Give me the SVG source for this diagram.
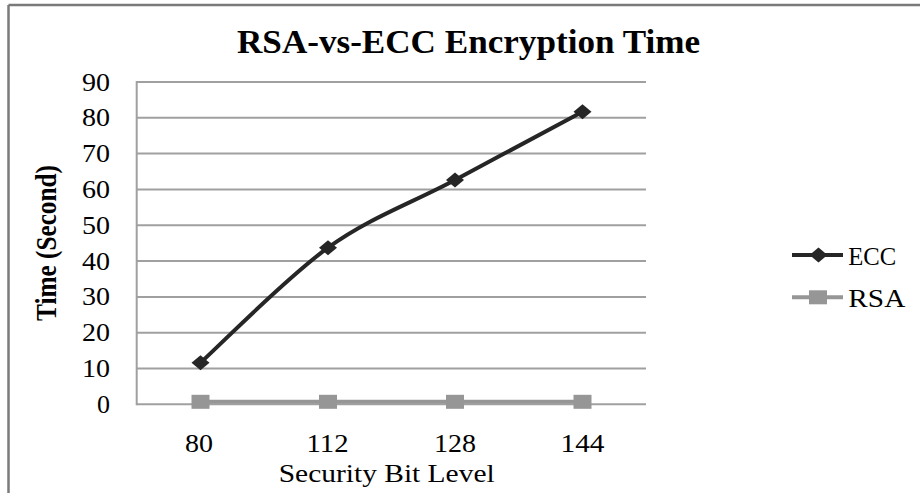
<svg xmlns="http://www.w3.org/2000/svg" width="920" height="493" viewBox="0 0 920 493">
<style>
  text { font-family: "Liberation Serif", "Times New Roman", serif; fill: #000; }
  .title { font-size: 34px; font-weight: bold; }
  .ytick { font-size: 26px; text-anchor: end; }
  .xtick { font-size: 25px; text-anchor: middle; }
  .axt { font-size: 26px; }
  .leg { font-size: 26px; }
  .grid { stroke: #a0a0a0; stroke-width: 2; fill: none; }
  .ecc { stroke: #262626; stroke-width: 4; fill: none; stroke-linejoin: round; }
  .rsa { stroke: #969696; stroke-width: 4; fill: none; }
</style>
<defs>
  <path id="dia" d="M0,-7.5 L9,0 L0,7.5 L-9,0 Z" fill="#262626"/>
  <rect id="sq" x="-9" y="-7" width="18" height="14" fill="#969696"/>
</defs>
<rect x="0" y="0" width="920" height="493" fill="#fff"/>
<g id="frame">
  <line x1="8.5" y1="5" x2="920" y2="5" stroke="#7a7a7a" stroke-width="2.5"/>
  <line x1="8.5" y1="5" x2="8.5" y2="493" stroke="#7a7a7a" stroke-width="2.5"/>
</g>
<g id="title">
  <text class="title" x="237" y="53" textLength="463" lengthAdjust="spacingAndGlyphs">RSA-vs-ECC Encryption Time</text>
</g>
<g id="grid">
  <line class="grid" x1="136.7" y1="82" x2="646" y2="82"/>
  <line class="grid" x1="136.7" y1="117.8" x2="646" y2="117.8"/>
  <line class="grid" x1="136.7" y1="153.6" x2="646" y2="153.6"/>
  <line class="grid" x1="136.7" y1="189.5" x2="646" y2="189.5"/>
  <line class="grid" x1="136.7" y1="225.3" x2="646" y2="225.3"/>
  <line class="grid" x1="136.7" y1="261.1" x2="646" y2="261.1"/>
  <line class="grid" x1="136.7" y1="296.9" x2="646" y2="296.9"/>
  <line class="grid" x1="136.7" y1="332.7" x2="646" y2="332.7"/>
  <line class="grid" x1="136.7" y1="368.5" x2="646" y2="368.5"/>
  <line class="grid" x1="136.7" y1="404.3" x2="646" y2="404.3"/>
  <line class="grid" x1="136.7" y1="81" x2="136.7" y2="405.3"/>
</g>
<g id="yaxis">
  <text class="ytick" x="110" y="90.5" textLength="28" lengthAdjust="spacingAndGlyphs">90</text>
  <text class="ytick" x="110" y="126.3" textLength="28" lengthAdjust="spacingAndGlyphs">80</text>
  <text class="ytick" x="110" y="162.1" textLength="28" lengthAdjust="spacingAndGlyphs">70</text>
  <text class="ytick" x="110" y="198" textLength="28" lengthAdjust="spacingAndGlyphs">60</text>
  <text class="ytick" x="110" y="233.8" textLength="28" lengthAdjust="spacingAndGlyphs">50</text>
  <text class="ytick" x="110" y="269.6" textLength="28" lengthAdjust="spacingAndGlyphs">40</text>
  <text class="ytick" x="110" y="305.4" textLength="28" lengthAdjust="spacingAndGlyphs">30</text>
  <text class="ytick" x="110" y="341.2" textLength="28" lengthAdjust="spacingAndGlyphs">20</text>
  <text class="ytick" x="110" y="377" textLength="28" lengthAdjust="spacingAndGlyphs">10</text>
  <text class="ytick" x="110" y="412.8" textLength="13" lengthAdjust="spacingAndGlyphs">0</text>
  <text class="axt" font-weight="bold" font-size="25" transform="translate(56,243) scale(1.15,1) rotate(-90)" text-anchor="middle" textLength="156" lengthAdjust="spacingAndGlyphs">Time (Second)</text>
</g>
<g id="xaxis">
  <text class="xtick" x="199" y="451.5" textLength="28" lengthAdjust="spacingAndGlyphs">80</text>
  <text class="xtick" x="327.5" y="451.5" textLength="42" lengthAdjust="spacingAndGlyphs">112</text>
  <text class="xtick" x="455" y="451.5" textLength="42" lengthAdjust="spacingAndGlyphs">128</text>
  <text class="xtick" x="582.5" y="451.5" textLength="44" lengthAdjust="spacingAndGlyphs">144</text>
  <text class="axt" x="386.7" y="481.5" text-anchor="middle" textLength="216" lengthAdjust="spacingAndGlyphs">Security Bit Level</text>
</g>
<g id="connectors">
  <path id="rsa-line" class="rsa" d="M200.5,401.8 L582.5,401.8"/>
  <path id="ecc-line" class="ecc" d="M200.5,362.7 C221.75,343.5 285.6,278.2 328,247.7 C370.4,217.2 412.6,202.7 455,180 C497.4,157.3 561.25,123.1 582.5,111.7"/>
</g>
<g id="rsa-points">
  <use href="#sq" x="200.5" y="401.8"/>
  <use href="#sq" x="328" y="401.8"/>
  <use href="#sq" x="455" y="401.8"/>
  <use href="#sq" x="582.5" y="401.8"/>
</g>
<g id="ecc-points">
  <use href="#dia" x="200.5" y="362.7"/>
  <use href="#dia" x="328" y="247.7"/>
  <use href="#dia" x="455" y="180"/>
  <use href="#dia" x="582.5" y="111.7"/>
</g>
<g id="legend">
  <g id="legend-ecc">
    <line class="ecc" x1="792" y1="255" x2="843" y2="255"/>
    <use href="#dia" x="818.5" y="255"/>
    <text class="leg" x="848.3" y="264.5" textLength="48" lengthAdjust="spacingAndGlyphs">ECC</text>
  </g>
  <g id="legend-rsa">
    <line class="rsa" x1="792" y1="297.3" x2="843" y2="297.3"/>
    <use href="#sq" x="818" y="297.3"/>
    <text class="leg" x="848.3" y="306.5" textLength="57" lengthAdjust="spacingAndGlyphs">RSA</text>
  </g>
</g>
</svg>
